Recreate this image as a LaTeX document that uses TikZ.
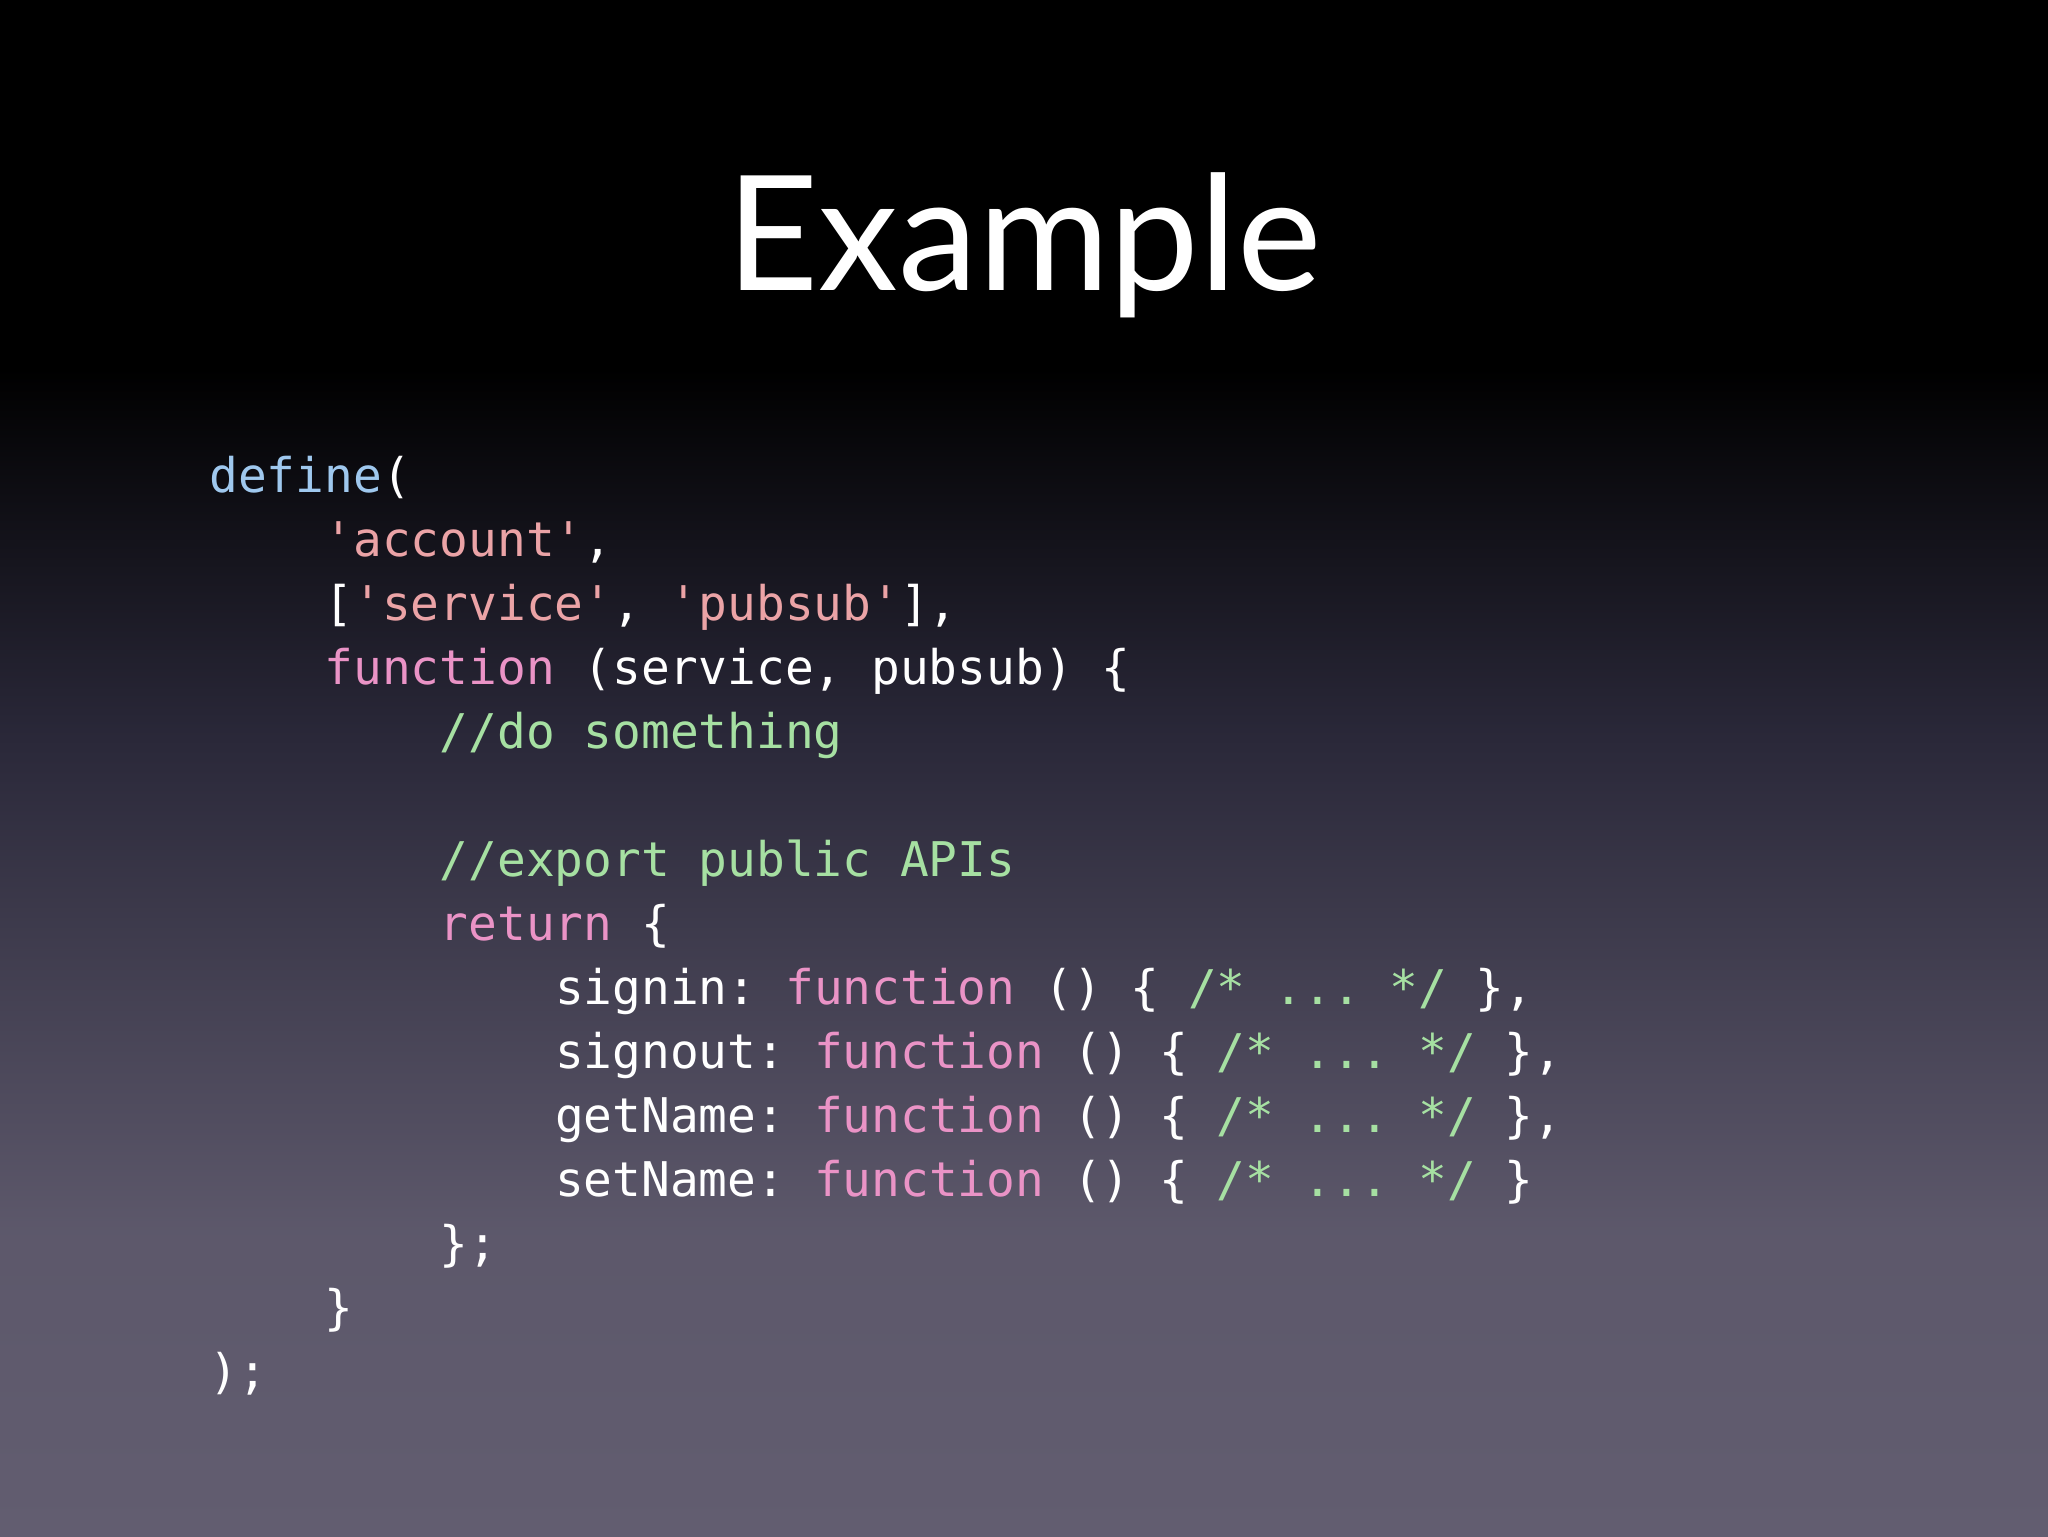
\documentclass[tikz,border=0pt]{standalone}
\usepackage{fontspec}
\setmainfont{Lato}
\setmonofont{DejaVu Sans Mono}
\definecolor{bgbot}{HTML}{625D70}
\definecolor{bgmid}{HTML}{2A2839}
\definecolor{kw}{HTML}{9FC8EE}
\definecolor{str}{HTML}{EBA3A6}
\definecolor{fn}{HTML}{EA93C6}
\definecolor{cm}{HTML}{A6E0A2}
\pgfdeclareverticalshading{bg}{100bp}{color(0bp)=(bgbot); color(25bp)=(bgbot); color(35bp)=(bgbot!90!bgmid); color(51bp)=(bgmid); color(63bp)=(black); color(100bp)=(black)}
\newcommand{\F}{\textcolor{fn}{function}}
\newcommand{\C}[1]{\textcolor{cm}{#1}}
\newcommand{\St}[1]{\textcolor{str}{#1}}
\begin{document}
\begin{tikzpicture}[x=1pt,y=-1pt,
  code/.style={anchor=base west,inner sep=0pt,text=white,font=\ttfamily\fontsize{23.9}{29}\selectfont}]
\shade[shading=bg] (0,0) rectangle (1024,768);
\useasboundingbox (0,0) rectangle (1024,768);
\node[anchor=base,inner sep=0pt,text=white,font=\fontsize{80}{90}\selectfont] (title) at (512,145) {Example};
\def\cw{14.4}
\def\lh{32}
\def\xo{104.5}
\def\yo{246}
\node[code] (l1) at (\xo,\yo) {\textcolor{kw}{define}(};
\node[code] (l2) at (\xo+4*\cw,\yo+1*\lh) {\St{'account'},};
\node[code] (l3) at (\xo+4*\cw,\yo+2*\lh) {[\St{'service'},~\St{'pubsub'}],};
\node[code] (l4) at (\xo+4*\cw,\yo+3*\lh) {\F~(service,~pubsub)~\{};
\node[code] (l5) at (\xo+8*\cw,\yo+4*\lh) {\C{//do~something}};
\node[code] (l7) at (\xo+8*\cw,\yo+6*\lh) {\C{//export~public~APIs}};
\node[code] (l8) at (\xo+8*\cw,\yo+7*\lh) {\textcolor{fn}{return}~\{};
\node[code] (l9) at (\xo+12*\cw,\yo+8*\lh) {signin:~\F~()~\{~\C{/*~...~*/}~\},};
\node[code] (l10) at (\xo+12*\cw,\yo+9*\lh) {signout:~\F~()~\{~\C{/*~...~*/}~\},};
\node[code] (l11) at (\xo+12*\cw,\yo+10*\lh) {getName:~\F~()~\{~\C{/*~...~*/}~\},};
\node[code] (l12) at (\xo+12*\cw,\yo+11*\lh) {setName:~\F~()~\{~\C{/*~...~*/}~\}};
\node[code] (l13) at (\xo+8*\cw,\yo+12*\lh) {\};};
\node[code] (l14) at (\xo+4*\cw,\yo+13*\lh) {\}};
\node[code] (l15) at (\xo,\yo+14*\lh) {);};
\end{tikzpicture}
\end{document}
